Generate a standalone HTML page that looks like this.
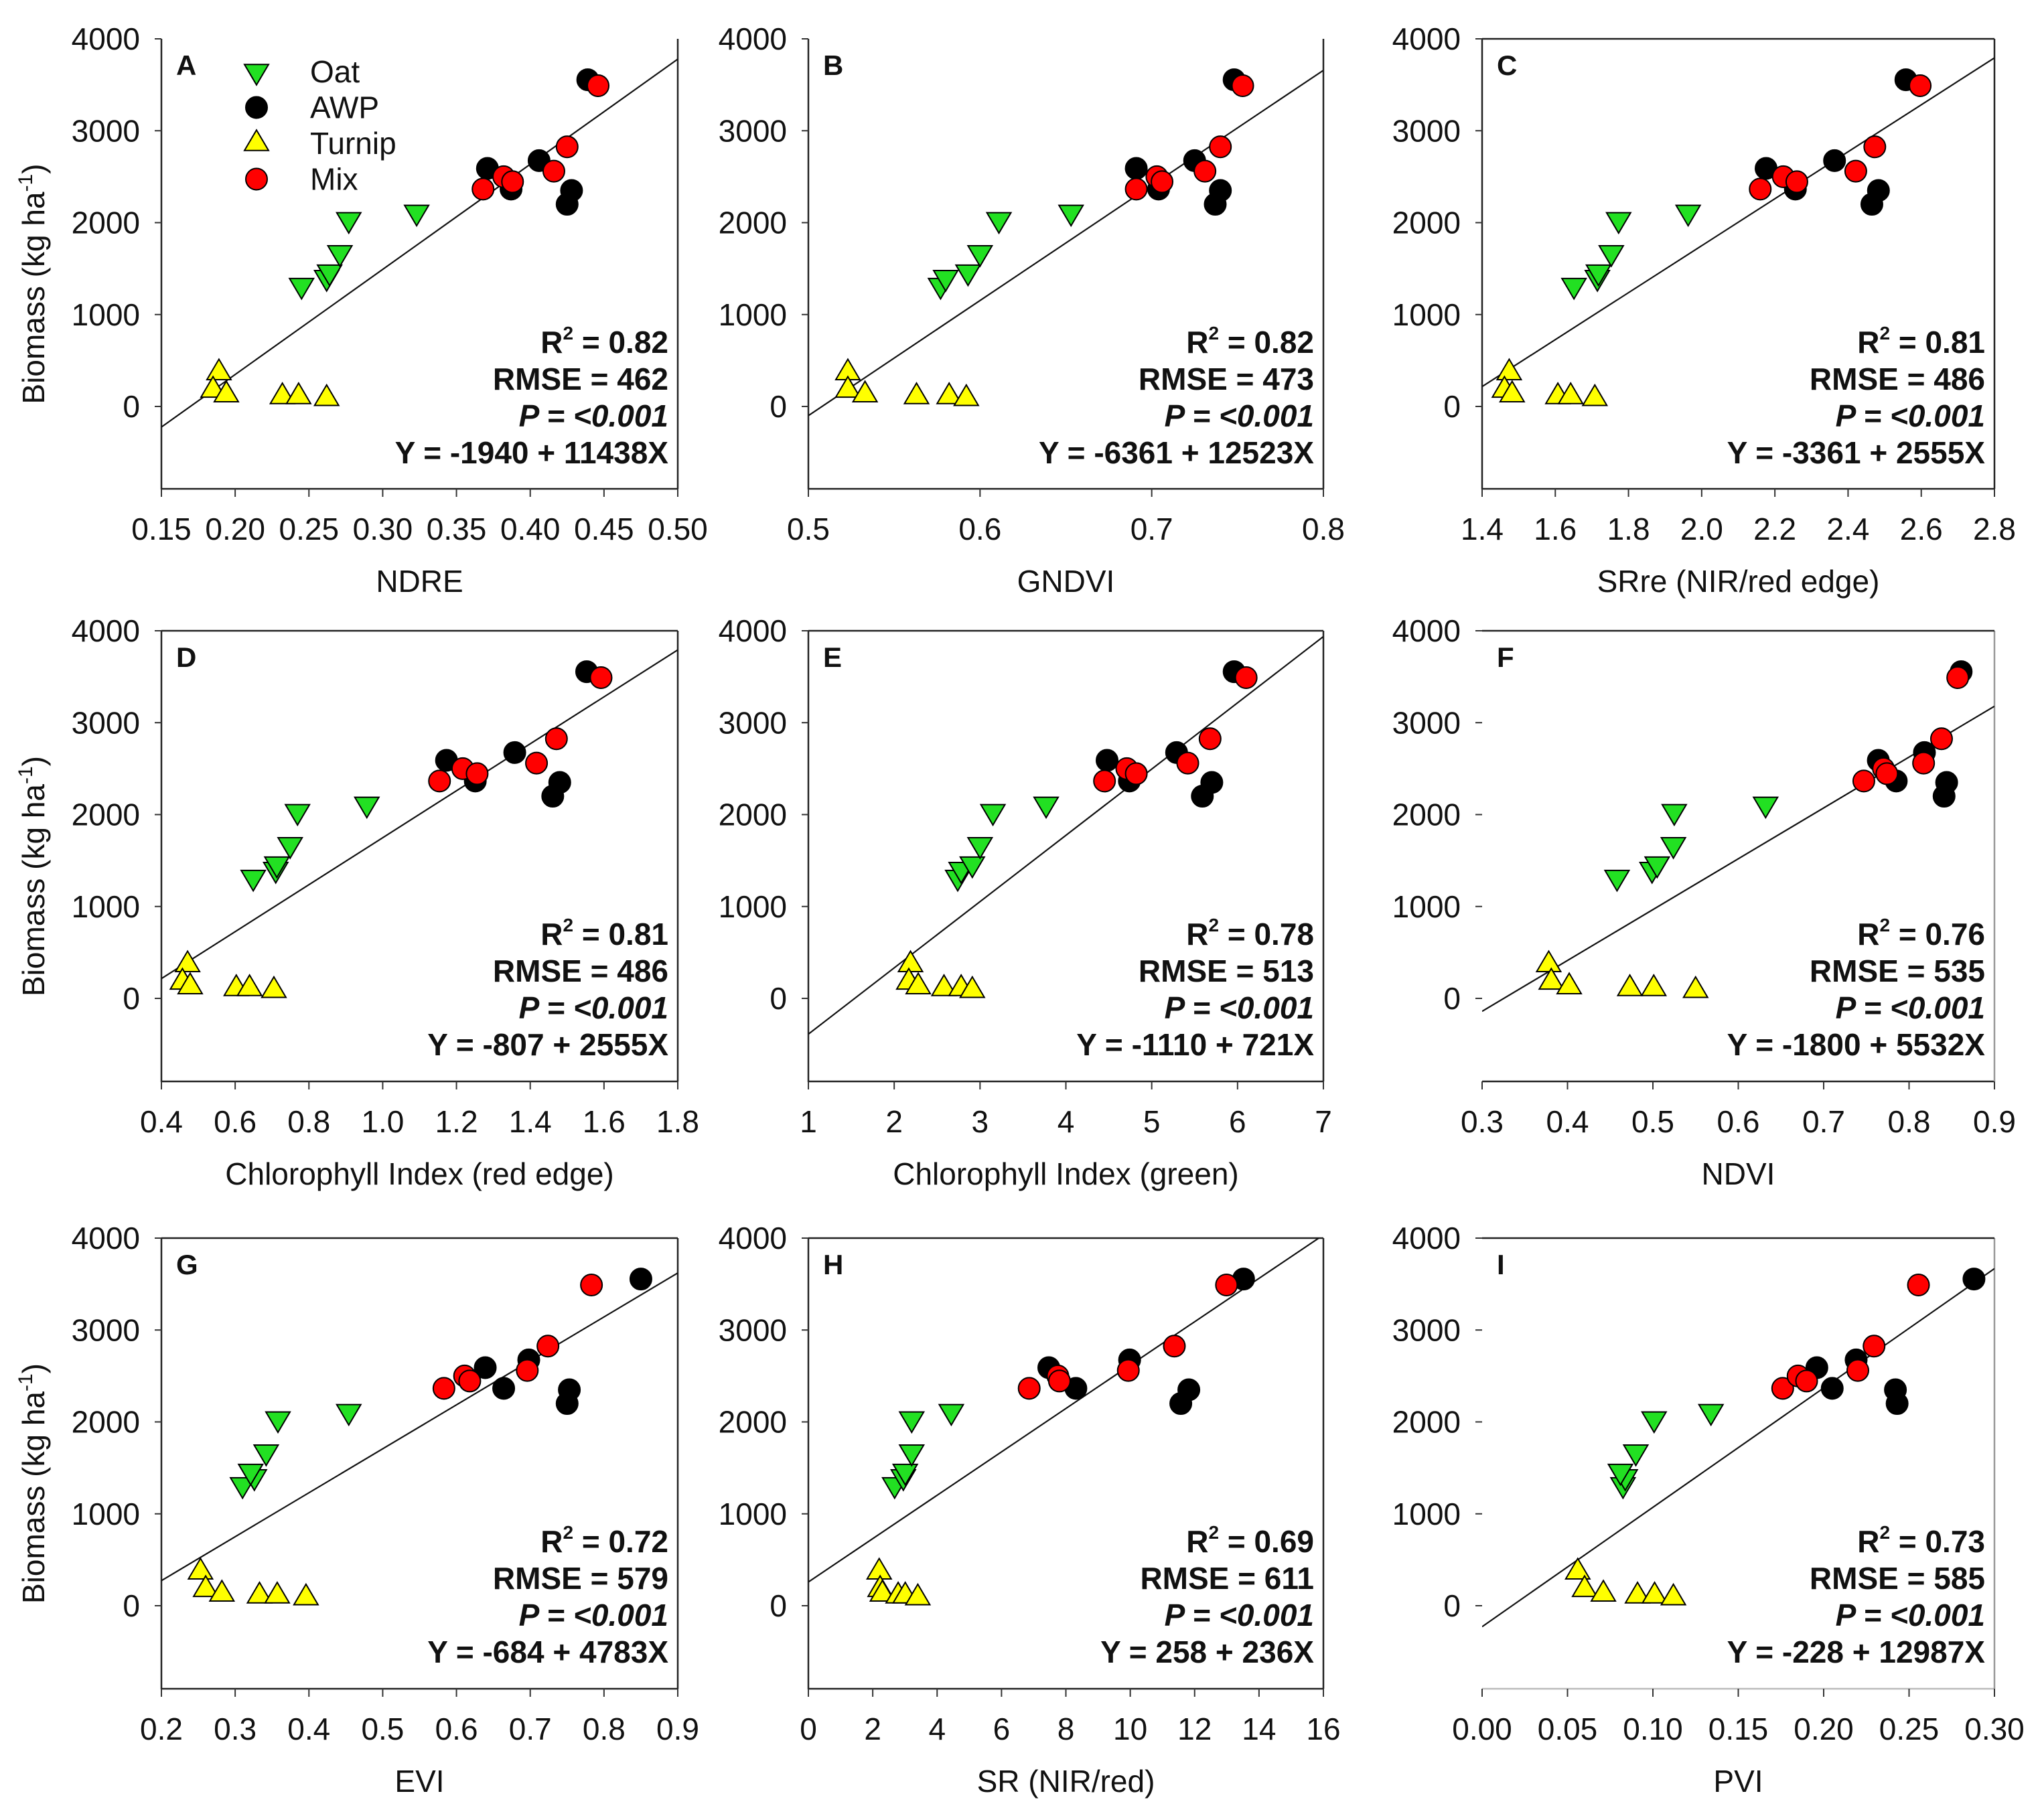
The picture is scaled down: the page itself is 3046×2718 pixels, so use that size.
<!DOCTYPE html>
<html>
<head>
<meta charset="utf-8">
<style>
  html,body{margin:0;padding:0;background:#fff;}
  svg{display:block;font-family:"Liberation Sans",Arial,sans-serif;}
</style>
</head>
<body>
<svg id="fig" width="3046" height="2718" viewBox="0 0 3046 2718" xmlns="http://www.w3.org/2000/svg"></svg>
<script>
// ---- data (shared biomass values, kg/ha) ----
const oatY    = [1314, 1400, 1460, 1670, 2030, 2110];
const turnipY = [370, 180, 130, 110, 110, 90];
const awpY    = [3555, 2590, 2365, 2675, 2350, 2200];
const mixY    = [3490, 2365, 2500, 2445, 2825, 2560];

// ---- per-panel index values (A..I) ----
const oatX = [
  [0.245,0.262,0.264,0.271,0.277,0.323],
  [0.577,0.580,0.593,0.600,0.611,0.653],
  [1.651,1.715,1.718,1.753,1.773,1.963],
  [0.649,0.710,0.713,0.749,0.769,0.957],
  [2.74,2.78,2.91,3.0,3.15,3.77],
  [0.458,0.499,0.505,0.524,0.525,0.632],
  [0.310,0.326,0.321,0.342,0.358,0.454],
  [2.68,2.95,3.01,3.21,3.21,4.44],
  [0.0825,0.0838,0.081,0.090,0.1007,0.134]
];
const turnipX = [
  [0.189,0.185,0.194,0.232,0.243,0.262],
  [0.523,0.523,0.533,0.563,0.582,0.592],
  [1.474,1.461,1.482,1.607,1.642,1.708],
  [0.471,0.457,0.478,0.603,0.639,0.705],
  [2.19,2.17,2.28,2.58,2.78,2.91],
  [0.378,0.381,0.402,0.473,0.501,0.550],
  [0.253,0.260,0.282,0.333,0.357,0.396],
  [2.20,2.23,2.30,2.79,3.01,3.40],
  [0.056,0.060,0.071,0.091,0.101,0.112]
];
const awpX = [
  [0.439,0.371,0.387,0.406,0.428,0.425],
  [0.748,0.691,0.704,0.725,0.740,0.737],
  [2.558,2.176,2.256,2.363,2.483,2.465],
  [1.553,1.173,1.251,1.358,1.480,1.461],
  [5.96,4.48,4.74,5.29,5.70,5.59],
  [0.861,0.764,0.785,0.818,0.844,0.841],
  [0.850,0.639,0.664,0.698,0.753,0.750],
  [13.52,7.47,8.31,9.98,11.82,11.57],
  [0.288,0.196,0.205,0.219,0.242,0.243]
];
const mixX = [
  [0.446,0.368,0.382,0.388,0.425,0.416],
  [0.753,0.691,0.703,0.706,0.740,0.731],
  [2.597,2.160,2.223,2.260,2.473,2.421],
  [1.592,1.154,1.217,1.256,1.471,1.417],
  [6.10,4.45,4.71,4.82,5.68,5.42],
  [0.857,0.747,0.770,0.774,0.838,0.817],
  [0.783,0.583,0.611,0.618,0.724,0.696],
  [12.99,6.86,7.75,7.80,11.37,9.94],
  [0.2555,0.176,0.185,0.190,0.2295,0.220]
];

// ---- panel axes / stats ----
const panelLetters = ["A","B","C","D","E","F","G","H","I"];
const xTitles = ["NDRE","GNDVI","SRre (NIR/red edge)","Chlorophyll Index (red edge)","Chlorophyll Index (green)","NDVI","EVI","SR (NIR/red)","PVI"];
const xMins  = [0.15, 0.5, 1.4, 0.4, 1, 0.3, 0.2, 0, 0.00];
const xMaxs  = [0.50, 0.8, 2.8, 1.8, 7, 0.9, 0.9, 16, 0.30];
const xSteps = [0.05, 0.1, 0.2, 0.2, 1, 0.1, 0.1, 2, 0.05];
const xDecimals = [2,1,1,1,0,1,1,0,2];
const intercepts = [-1940, -6361, -3361, -807, -1110, -1800, -684, 258, -228];
const slopes     = [11438, 12523, 2555, 2555, 721, 5532, 4783, 236, 12987];
const r2Labels   = ["0.82","0.82","0.81","0.81","0.78","0.76","0.72","0.69","0.73"];
const rmseLabels = ["462","473","486","486","513","535","579","611","585"];
const eqLabels   = ["Y = -1940 + 11438X","Y = -6361 + 12523X","Y = -3361 + 2555X","Y = -807 + 2555X","Y = -1110 + 721X","Y = -1800 + 5532X","Y = -684 + 4783X","Y = 258 + 236X","Y = -228 + 12987X"];
const yTicks = [0,1000,2000,3000,4000];

// ---- layout (pixels) ----
const colLeft  = [241, 1207, 2213];
const colRight = [1012, 1976, 2978];
const rowTop4000 = [58, 942, 1849];
const rowZero    = [607, 1491, 2398];
const rowBottom  = [730, 1615, 2522];

const NS = "http://www.w3.org/2000/svg";
const svg = document.getElementById("fig");
function mk(tag, attrs, parent){
  const e = document.createElementNS(NS, tag);
  for (const k in attrs) e.setAttribute(k, attrs[k]);
  (parent||svg).appendChild(e);
  return e;
}
const defs = mk("defs", {});

function marker(g, kind, cx, cy){
  let e;
  if (kind === "oat"){
    const s = 18;
    e = mk("polygon", {points:`${cx-s},${cy-s*0.6} ${cx+s},${cy-s*0.6} ${cx},${cy+s*1.1}`, fill:"#22e022", stroke:"#000", "stroke-width":2}, g);
  } else if (kind === "turnip"){
    const s = 18;
    e = mk("polygon", {points:`${cx-s},${cy+s*0.6} ${cx+s},${cy+s*0.6} ${cx},${cy-s*1.1}`, fill:"#ffff00", stroke:"#000", "stroke-width":2}, g);
  } else if (kind === "awp"){
    e = mk("circle", {cx:cx, cy:cy, r:16, fill:"#000", stroke:"#000", "stroke-width":2}, g);
  } else {
    e = mk("circle", {cx:cx, cy:cy, r:16, fill:"#ff0000", stroke:"#000", "stroke-width":2}, g);
  }
  return e;
}

for (let p = 0; p < 9; p++){
  const col = p % 3, row = Math.floor(p/3);
  const L = colLeft[col], R = colRight[col];
  const yTopPx = rowTop4000[row], y0Px = rowZero[row], B = rowBottom[row];
  const yPerUnit = (y0Px - yTopPx) / 4000;
  const xMin = xMins[p], xMax = xMaxs[p];
  const sx = v => L + (v - xMin) / (xMax - xMin) * (R - L);
  const sy = v => y0Px - v * yPerUnit;
  const yMinVal = (y0Px - B) / yPerUnit * -1;

  const g = mk("g", {});
  
  

  // clip
  const cp = mk("clipPath", {id:"clip"+p}, defs);
  mk("rect", {x:L, y:yTopPx, width:R-L, height:B-yTopPx}, cp);

  // frame
  const noLeft = (p === 5 || p === 8);
  const frameColor = "#222";
  if (!noLeft){
    const la = mk("line", {x1:L, y1:yTopPx, x2:L, y2:B+1, stroke:frameColor, "stroke-width":2.5}, g);
    
    
  }
  const ba = mk("line", {x1:L, y1:B, x2:R, y2:B, stroke:(p===8?"#bbb":frameColor), "stroke-width":2.5}, g);
  
  
  mk("line", {x1:R, y1:yTopPx, x2:R, y2:B, stroke:(p===5||p===8?"#999":frameColor), "stroke-width":2.5}, g);
  if (p >= 2){
    mk("line", {x1:L, y1:yTopPx, x2:R, y2:yTopPx, stroke:frameColor, "stroke-width":2.5}, g);
  }

  // y ticks + labels
  yTicks.forEach(t => {
    const y = sy(t);
    mk("line", {x1:L-10, y1:y, x2:L, y2:y, stroke:"#333", "stroke-width":2}, g);
    const tx = mk("text", {x:L-32, y:y+16, "font-size":46, "text-anchor":"end", fill:"#111"}, g);
    tx.textContent = String(t);
    
    
  });

  // x ticks + labels
  const nT = Math.round((xMax - xMin) / xSteps[p]);
  for (let i = 0; i <= nT; i++){
    const v = xMin + i * xSteps[p];
    const x = sx(v);
    mk("line", {x1:x, y1:B, x2:x, y2:B+12, stroke:"#333", "stroke-width":2}, g);
    const tx = mk("text", {x:x, y:B+76, "font-size":46, "text-anchor":"middle", fill:"#111"}, g);
    tx.textContent = v.toFixed(xDecimals[p]);
    
    
  }

  // x title
  const xt = mk("text", {x:(L+R)/2, y:B+154, "font-size":46, "text-anchor":"middle", fill:"#111"}, g);
  xt.textContent = xTitles[p];
  
  

  // y title (left column)
  if (col === 0){
    const cy = (yTopPx + B) / 2 + 30;
    const yt = mk("text", {x:0, y:0, "font-size":46, "text-anchor":"middle", fill:"#111", transform:`translate(66 ${cy}) rotate(-90)`}, g);
    
    
    yt.appendChild(document.createTextNode("Biomass (kg ha"));
    const sup = mk("tspan", {"font-size":30, dy:-18}, yt); sup.textContent = "-1";
    const rest = mk("tspan", {dy:18}, yt); rest.textContent = ")";
  }

  // panel letter
  const pl = mk("text", {x:L+22, y:yTopPx+54, "font-size":42, "font-weight":"bold", fill:"#111"}, g);
  pl.textContent = panelLetters[p];
  
  

  // regression line
  const x1 = xMin, x2 = xMax;
  const rl = mk("line", {x1:sx(x1), y1:sy(intercepts[p]+slopes[p]*x1), x2:sx(x2), y2:sy(intercepts[p]+slopes[p]*x2), stroke:"#111", "stroke-width":2.2, "clip-path":`url(#clip${p})`}, g);
  
  

  // points
  const series = [["oat", oatX[p], oatY], ["turnip", turnipX[p], turnipY], ["awp", awpX[p], awpY], ["mix", mixX[p], mixY]];
  series.forEach(([kind, xs, ys]) => {
    xs.forEach((xv, i) => {
      const m = marker(g, kind, sx(xv), sy(ys[i]));
      
      
    });
  });

  // stats text
  const ex = R - 14;
  const sBase = y0Px - 80;
  const lh = 55;
  const t1 = mk("text", {x:ex, y:sBase, "font-size":46, "font-weight":"bold", "text-anchor":"end", fill:"#111"}, g);
  
  
  t1.appendChild(document.createTextNode("R"));
  const s2 = mk("tspan", {"font-size":28, dy:-20}, t1); s2.textContent = "2";
  const s3 = mk("tspan", {dy:20}, t1); s3.textContent = " = " + r2Labels[p];
  const t2 = mk("text", {x:ex, y:sBase+lh, "font-size":46, "font-weight":"bold", "text-anchor":"end", fill:"#111"}, g);
  t2.textContent = "RMSE = " + rmseLabels[p];
  
  
  const t3 = mk("text", {x:ex, y:sBase+2*lh, "font-size":46, "font-weight":"bold", "font-style":"italic", "text-anchor":"end", fill:"#111"}, g);
  t3.textContent = "P = <0.001";
  
  
  const t4 = mk("text", {x:ex, y:sBase+3*lh, "font-size":46, "font-weight":"bold", "text-anchor":"end", fill:"#111"}, g);
  t4.textContent = eqLabels[p];
  
  
}

// ---- legend (panel A) ----
const legendNames = ["Oat","AWP","Turnip","Mix"];
const legendKinds = ["oat","awp","turnip","mix"];
const lg = mk("g", {});


legendNames.forEach((nm, i) => {
  const cy = 107 + i * 53.5;
  const m = marker(lg, legendKinds[i], 383, cy);
  
  
  const t = mk("text", {x:463, y:cy+16, "font-size":46, fill:"#111"}, lg);
  t.textContent = nm;
  
  
});
</script>
</body>
</html>
